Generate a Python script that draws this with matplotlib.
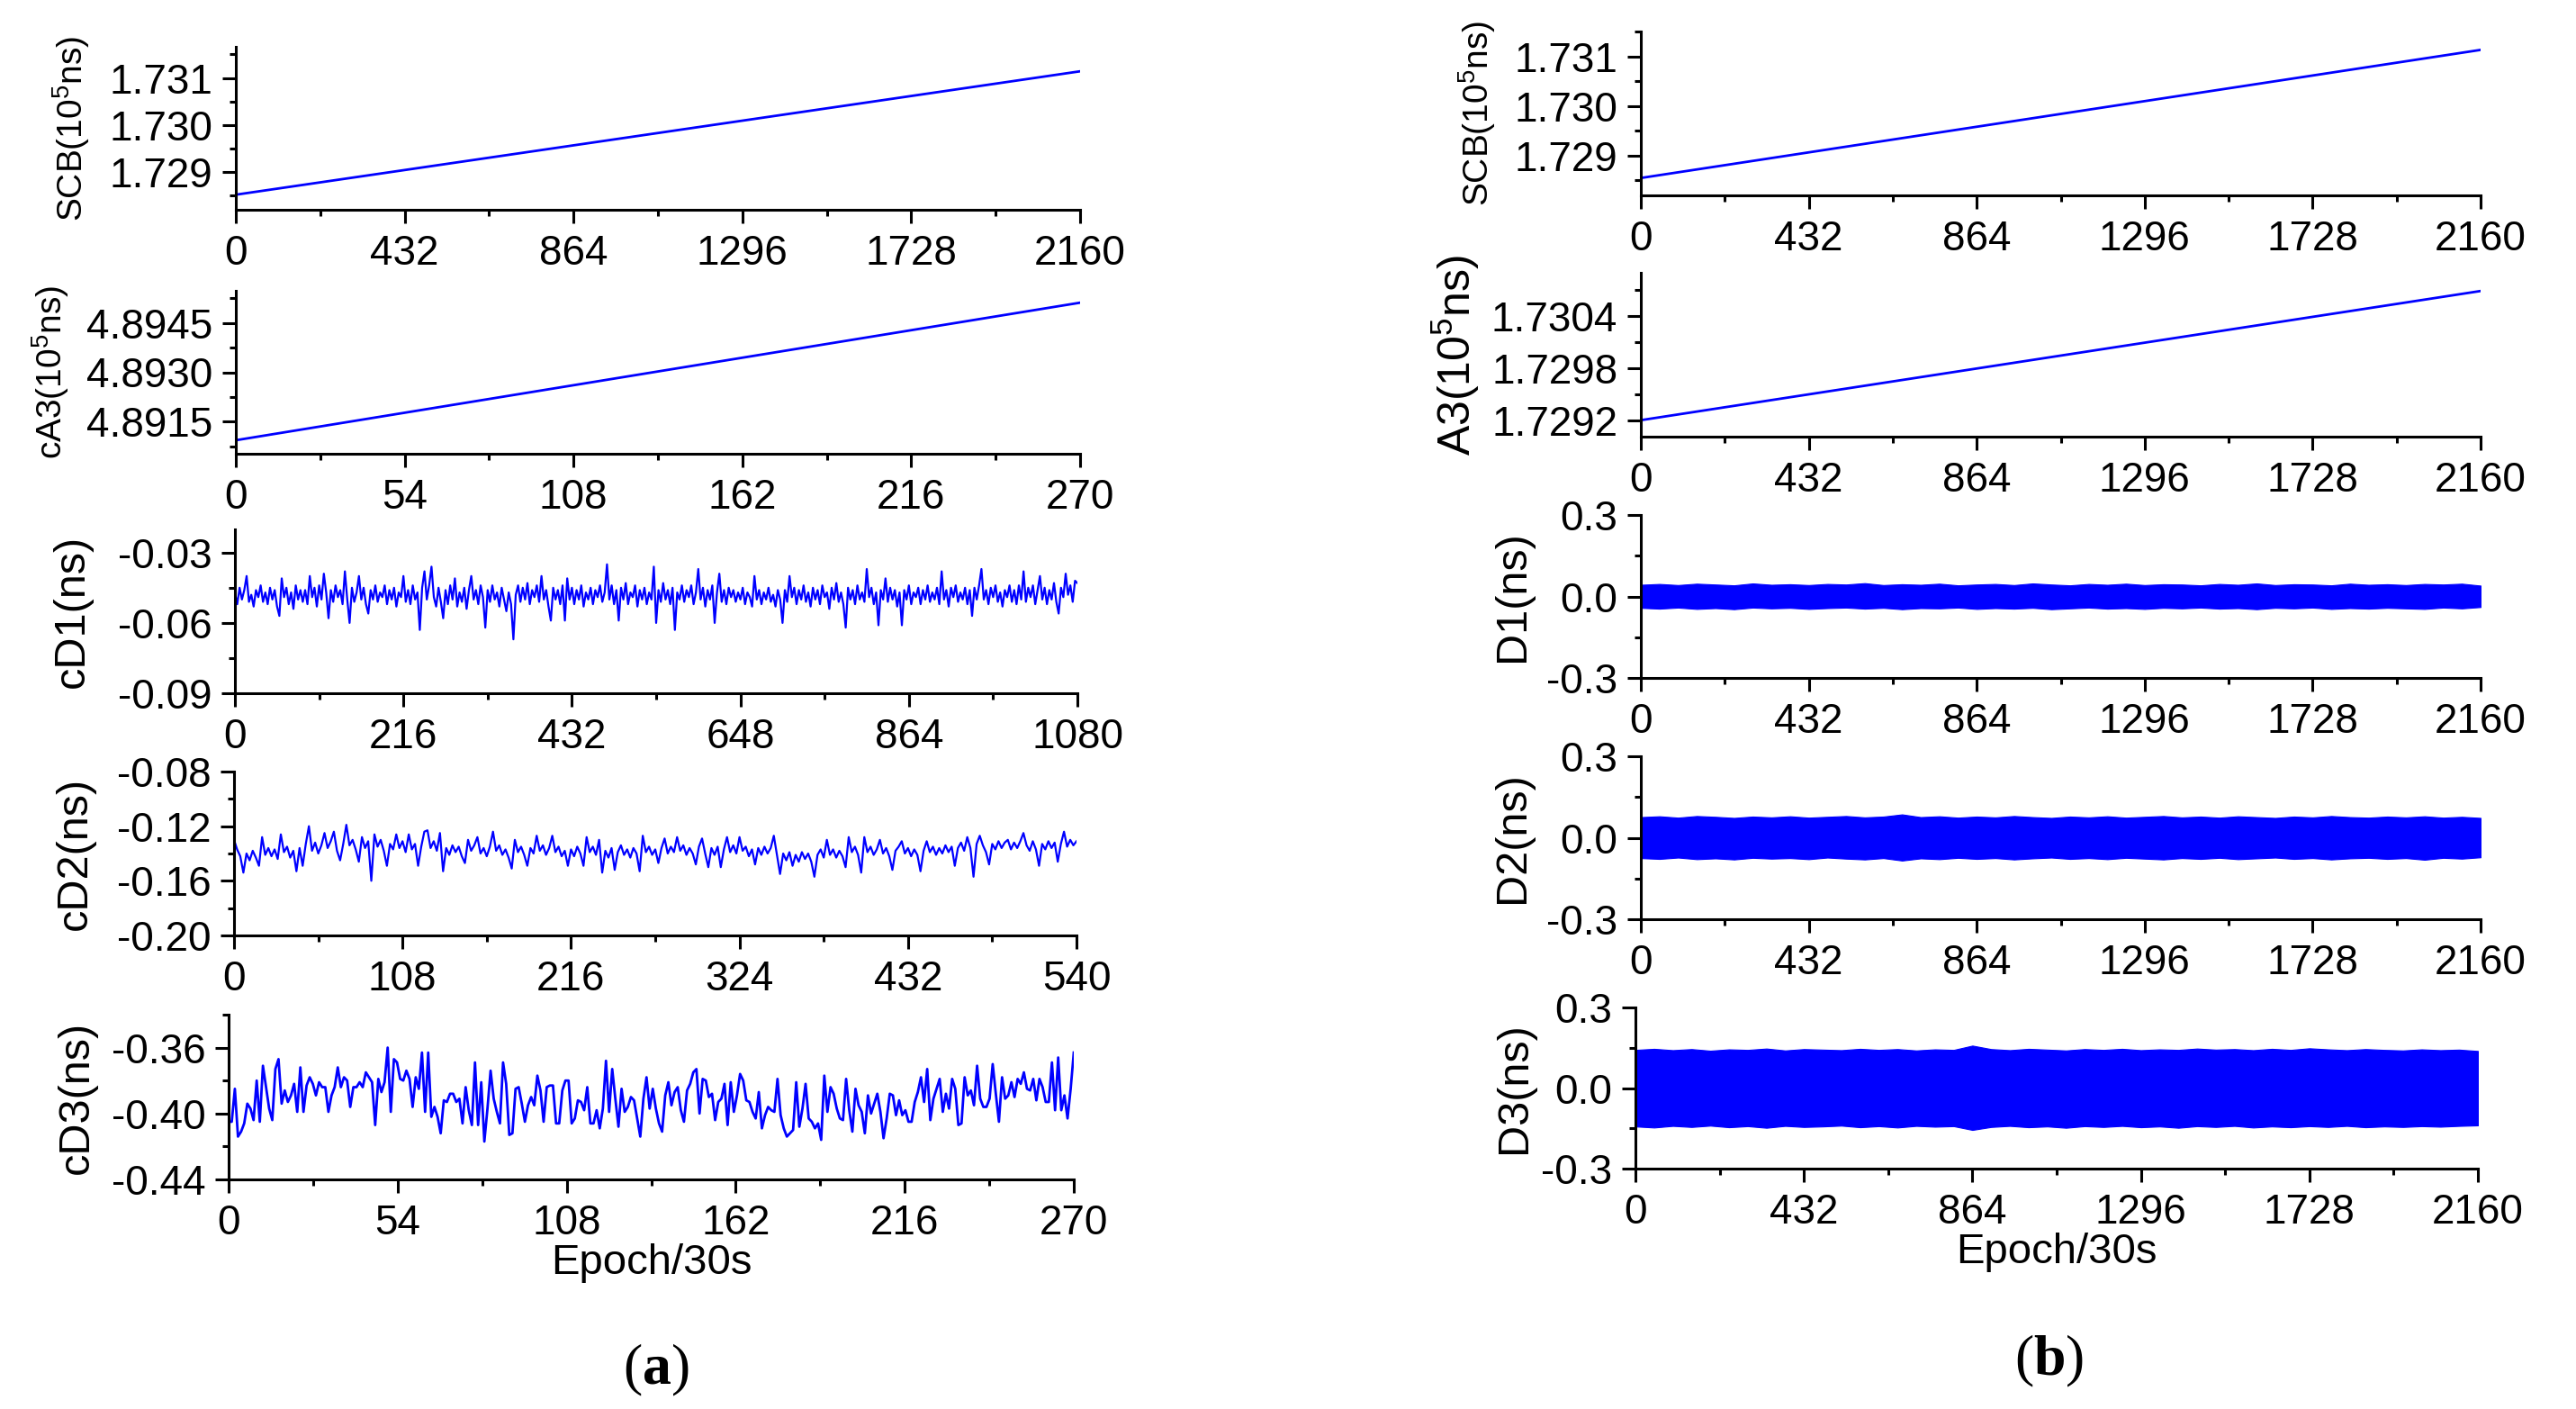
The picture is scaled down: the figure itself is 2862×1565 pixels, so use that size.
import numpy as np
import matplotlib
matplotlib.use('Agg')
import matplotlib.pyplot as plt
from matplotlib.ticker import FixedLocator

# === Font setup (Arial-like text, Times-like panel tags) ===
plt.rcParams.update({
    'font.family': 'Liberation Sans',
    'mathtext.fontset': 'custom',
    'mathtext.default': 'regular',
    'mathtext.rm': 'Liberation Sans',
    'mathtext.bf': 'Liberation Serif:bold',
})

BLUE = '#0000ff'

# === Data ===
# (a) straight lines: values at first and last epoch
scb_a_epoch = [0, 2160]
scb_a = [1.72852, 1.73114]
ca3_epoch = [0, 270]
ca3 = [4.89094, 4.89511]

# (a) cD1, one value per 3 epochs (0..1080)
cd1 = [
    -0.047, -0.052, -0.045, -0.050, -0.046, -0.040, -0.051, -0.048, -0.053, -0.046,
    -0.049, -0.044, -0.051, -0.047, -0.052, -0.045, -0.050, -0.046, -0.053, -0.057,
    -0.041, -0.049, -0.045, -0.052, -0.047, -0.054, -0.044, -0.050, -0.046, -0.051,
    -0.046, -0.052, -0.040, -0.049, -0.045, -0.053, -0.044, -0.050, -0.039, -0.047,
    -0.058, -0.046, -0.051, -0.044, -0.049, -0.046, -0.052, -0.038, -0.050, -0.060,
    -0.045, -0.051, -0.047, -0.040, -0.050, -0.045, -0.052, -0.056, -0.046, -0.050,
    -0.044, -0.051, -0.047, -0.049, -0.044, -0.052, -0.046, -0.050, -0.045, -0.053,
    -0.047, -0.049, -0.040, -0.051, -0.046, -0.052, -0.044, -0.050, -0.047, -0.063,
    -0.045, -0.038, -0.050, -0.044, -0.036, -0.049, -0.053, -0.045, -0.051, -0.058,
    -0.046, -0.052, -0.044, -0.050, -0.041, -0.053, -0.047, -0.051, -0.045, -0.054,
    -0.046, -0.040, -0.050, -0.046, -0.052, -0.044, -0.049, -0.062, -0.046, -0.051,
    -0.044, -0.050, -0.047, -0.053, -0.045, -0.050, -0.055, -0.047, -0.052, -0.067,
    -0.048, -0.044, -0.051, -0.045, -0.050, -0.043, -0.052, -0.046, -0.049, -0.044,
    -0.051, -0.040, -0.050, -0.046, -0.053, -0.059, -0.045, -0.050, -0.046, -0.052,
    -0.044, -0.059, -0.041, -0.050, -0.045, -0.052, -0.046, -0.050, -0.044, -0.053,
    -0.047, -0.050, -0.045, -0.052, -0.046, -0.049, -0.044, -0.051, -0.047, -0.035,
    -0.050, -0.044, -0.052, -0.046, -0.059, -0.045, -0.050, -0.043, -0.052, -0.047,
    -0.049, -0.044, -0.053, -0.046, -0.050, -0.045, -0.052, -0.047, -0.050, -0.036,
    -0.060, -0.046, -0.051, -0.043, -0.050, -0.046, -0.052, -0.045, -0.063, -0.047,
    -0.050, -0.044, -0.051, -0.046, -0.049, -0.044, -0.052, -0.047, -0.037, -0.050,
    -0.045, -0.053, -0.046, -0.050, -0.044, -0.060, -0.047, -0.039, -0.051, -0.046,
    -0.052, -0.045, -0.049, -0.046, -0.051, -0.047, -0.050, -0.045, -0.052, -0.047,
    -0.049, -0.053, -0.040, -0.050, -0.046, -0.052, -0.047, -0.050, -0.045, -0.051,
    -0.048, -0.053, -0.046, -0.050, -0.060, -0.046, -0.051, -0.040, -0.049, -0.045,
    -0.052, -0.046, -0.050, -0.044, -0.051, -0.047, -0.053, -0.045, -0.050, -0.046,
    -0.052, -0.044, -0.049, -0.047, -0.054, -0.045, -0.050, -0.043, -0.051, -0.047,
    -0.052, -0.062, -0.045, -0.050, -0.046, -0.052, -0.044, -0.050, -0.047, -0.051,
    -0.037, -0.049, -0.045, -0.052, -0.047, -0.061, -0.046, -0.050, -0.041, -0.051,
    -0.045, -0.050, -0.046, -0.053, -0.047, -0.061, -0.046, -0.050, -0.044, -0.052,
    -0.047, -0.049, -0.045, -0.052, -0.046, -0.050, -0.044, -0.051, -0.047, -0.050,
    -0.045, -0.052, -0.038, -0.050, -0.046, -0.053, -0.045, -0.049, -0.044, -0.051,
    -0.047, -0.050, -0.045, -0.052, -0.046, -0.057, -0.045, -0.050, -0.044, -0.037,
    -0.050, -0.046, -0.052, -0.045, -0.049, -0.044, -0.051, -0.047, -0.053, -0.046,
    -0.049, -0.044, -0.051, -0.046, -0.052, -0.044, -0.050, -0.038, -0.051, -0.045,
    -0.049, -0.044, -0.052, -0.046, -0.040, -0.050, -0.045, -0.052, -0.046, -0.050,
    -0.043, -0.051, -0.056, -0.045, -0.049, -0.039, -0.048, -0.044, -0.051, -0.042,
    -0.043,
]

# (a) cD2, one value per 2 epochs (0..540)
cd2 = [
    -0.130, -0.137, -0.142, -0.154, -0.140, -0.145, -0.138, -0.143, -0.149, -0.128,
    -0.141, -0.136, -0.142, -0.137, -0.144, -0.126, -0.139, -0.135, -0.143, -0.138,
    -0.153, -0.136, -0.149, -0.133, -0.120, -0.138, -0.132, -0.140, -0.134, -0.125,
    -0.136, -0.131, -0.124, -0.138, -0.145, -0.133, -0.119, -0.134, -0.130, -0.137,
    -0.146, -0.128, -0.136, -0.131, -0.160, -0.126, -0.135, -0.130, -0.138, -0.149,
    -0.133, -0.137, -0.126, -0.136, -0.131, -0.139, -0.126, -0.137, -0.133, -0.149,
    -0.135, -0.124, -0.123, -0.136, -0.131, -0.138, -0.125, -0.153, -0.136, -0.141,
    -0.134, -0.139, -0.135, -0.142, -0.147, -0.130, -0.138, -0.134, -0.128, -0.140,
    -0.136, -0.142, -0.135, -0.124, -0.138, -0.134, -0.141, -0.137, -0.143, -0.151,
    -0.130, -0.139, -0.135, -0.141, -0.149, -0.136, -0.140, -0.127, -0.138, -0.134,
    -0.141, -0.136, -0.127, -0.139, -0.135, -0.142, -0.138, -0.149, -0.137, -0.142,
    -0.135, -0.140, -0.149, -0.128, -0.139, -0.135, -0.141, -0.130, -0.154, -0.138,
    -0.143, -0.136, -0.152, -0.139, -0.134, -0.141, -0.137, -0.143, -0.136, -0.140,
    -0.153, -0.127, -0.139, -0.135, -0.141, -0.137, -0.147, -0.136, -0.129, -0.140,
    -0.135, -0.139, -0.128, -0.138, -0.134, -0.141, -0.136, -0.140, -0.148, -0.135,
    -0.129, -0.140, -0.150, -0.136, -0.141, -0.135, -0.150, -0.137, -0.128, -0.139,
    -0.134, -0.140, -0.128, -0.138, -0.135, -0.142, -0.137, -0.148, -0.136, -0.141,
    -0.135, -0.140, -0.136, -0.127, -0.141, -0.155, -0.140, -0.145, -0.139, -0.149,
    -0.141, -0.146, -0.139, -0.144, -0.140, -0.146, -0.157, -0.141, -0.137, -0.143,
    -0.130, -0.141, -0.137, -0.143, -0.138, -0.142, -0.150, -0.128, -0.139, -0.135,
    -0.141, -0.154, -0.128, -0.139, -0.135, -0.141, -0.137, -0.130, -0.140, -0.136,
    -0.142, -0.152, -0.138, -0.135, -0.131, -0.140, -0.136, -0.142, -0.137, -0.141,
    -0.153, -0.138, -0.131, -0.139, -0.135, -0.141, -0.136, -0.140, -0.134, -0.139,
    -0.135, -0.149, -0.136, -0.132, -0.138, -0.128, -0.136, -0.157, -0.133, -0.127,
    -0.134, -0.139, -0.148, -0.133, -0.137, -0.131, -0.136, -0.132, -0.130, -0.137,
    -0.132, -0.136, -0.131, -0.125, -0.134, -0.138, -0.131, -0.137, -0.149, -0.133,
    -0.137, -0.131, -0.136, -0.132, -0.146, -0.133, -0.124, -0.135, -0.130, -0.134,
    -0.131,
]

# (a) cD3, about one value per epoch (0..270)
cd3 = [
    -0.405, -0.405, -0.385, -0.414, -0.411, -0.406, -0.394, -0.397, -0.404, -0.380,
    -0.405, -0.371, -0.384, -0.397, -0.404, -0.373, -0.367, -0.394, -0.386, -0.393,
    -0.389, -0.382, -0.399, -0.372, -0.399, -0.383, -0.378, -0.382, -0.389, -0.381,
    -0.384, -0.384, -0.399, -0.389, -0.384, -0.372, -0.384, -0.378, -0.380, -0.396,
    -0.384, -0.384, -0.381, -0.384, -0.375, -0.378, -0.381, -0.407, -0.379, -0.387,
    -0.381, -0.360, -0.399, -0.367, -0.369, -0.379, -0.380, -0.374, -0.379, -0.396,
    -0.378, -0.385, -0.363, -0.399, -0.363, -0.402, -0.396, -0.402, -0.412, -0.392,
    -0.393, -0.388, -0.388, -0.393, -0.391, -0.406, -0.384, -0.398, -0.407, -0.369,
    -0.407, -0.381, -0.417, -0.397, -0.374, -0.391, -0.399, -0.406, -0.369, -0.382,
    -0.413, -0.412, -0.385, -0.384, -0.394, -0.405, -0.395, -0.390, -0.395, -0.377,
    -0.386, -0.405, -0.384, -0.383, -0.383, -0.406, -0.406, -0.386, -0.380, -0.380,
    -0.406, -0.403, -0.392, -0.393, -0.398, -0.384, -0.406, -0.406, -0.398, -0.409,
    -0.397, -0.368, -0.399, -0.373, -0.391, -0.408, -0.385, -0.399, -0.396, -0.390,
    -0.392, -0.403, -0.414, -0.391, -0.378,
    -0.397, -0.385, -0.397, -0.406, -0.411, -0.389, -0.381, -0.395, -0.387, -0.384,
    -0.398, -0.405, -0.386, -0.382, -0.375, -0.373, -0.400, -0.379, -0.380, -0.390,
    -0.388, -0.404, -0.393, -0.391, -0.382, -0.407, -0.381, -0.399, -0.389, -0.376,
    -0.380, -0.392, -0.393, -0.399, -0.403, -0.387, -0.409, -0.401, -0.396, -0.398,
    -0.399, -0.379, -0.401, -0.409, -0.414, -0.412, -0.410, -0.381, -0.408, -0.397,
    -0.382, -0.403, -0.405, -0.409, -0.406, -0.416, -0.377, -0.399, -0.384, -0.388,
    -0.397, -0.403, -0.404, -0.379, -0.398, -0.411, -0.385, -0.395, -0.399, -0.412,
    -0.389, -0.400, -0.394, -0.388, -0.399, -0.415, -0.403, -0.388, -0.389, -0.401,
    -0.392, -0.401, -0.398, -0.405, -0.405, -0.393, -0.387, -0.378, -0.393, -0.373,
    -0.404, -0.391, -0.385, -0.379, -0.399, -0.388, -0.397, -0.379, -0.385, -0.407,
    -0.406, -0.378, -0.389, -0.386, -0.395, -0.371, -0.391, -0.396, -0.396, -0.391,
    -0.370, -0.388, -0.405, -0.378, -0.391, -0.389, -0.381, -0.390, -0.379, -0.382,
    -0.375, -0.385, -0.386, -0.379, -0.392, -0.379, -0.384, -0.393, -0.393, -0.369,
    -0.398, -0.366, -0.398, -0.389, -0.403, -0.385, -0.363,
]

# (b) straight lines
scb_b_epoch = [0, 2160]
scb_b = [1.72855, 1.73113]
a3_epoch = [0, 2160]
a3 = [1.72920, 1.73069]

# (b) D1..D3 are dense bands: upper / lower envelope, one value per 48 epochs
d1_upper = [
    0.043, 0.046, 0.042, 0.047, 0.044, 0.041, 0.048, 0.043, 0.045, 0.042,
    0.046, 0.044, 0.049, 0.042, 0.045, 0.043, 0.047, 0.041, 0.044, 0.046,
    0.042, 0.048, 0.044, 0.041, 0.046, 0.043, 0.047, 0.042, 0.045, 0.044,
    0.041, 0.046, 0.043, 0.048, 0.042, 0.045, 0.044, 0.041, 0.047, 0.043,
    0.045, 0.042, 0.046, 0.044, 0.047, 0.040,
]
d1_lower = [
    -0.042, -0.045, -0.041, -0.046, -0.043, -0.047, -0.041, -0.044, -0.042, -0.046,
    -0.043, -0.041, -0.045, -0.042, -0.047, -0.043, -0.044, -0.041, -0.046, -0.043,
    -0.045, -0.042, -0.047, -0.044, -0.041, -0.045, -0.043, -0.046, -0.042, -0.044,
    -0.041, -0.045, -0.043, -0.047, -0.042, -0.044, -0.041, -0.046, -0.043, -0.045,
    -0.042, -0.044, -0.046, -0.041, -0.044, -0.039,
]
d2_upper = [
    0.076, 0.079, 0.074, 0.080, 0.077, 0.073, 0.078, 0.075, 0.079, 0.074,
    0.077, 0.080, 0.075, 0.078, 0.086, 0.076, 0.079, 0.074, 0.078, 0.075,
    0.080, 0.076, 0.073, 0.078, 0.075, 0.079, 0.074, 0.077, 0.080, 0.075,
    0.078, 0.074, 0.079, 0.076, 0.073, 0.078, 0.075, 0.080, 0.076, 0.074,
    0.078, 0.075, 0.079, 0.074, 0.077, 0.073,
]
d2_lower = [
    -0.075, -0.078, -0.073, -0.079, -0.076, -0.080, -0.074, -0.077, -0.075, -0.079,
    -0.073, -0.077, -0.080, -0.075, -0.084, -0.076, -0.079, -0.074, -0.078, -0.075,
    -0.080, -0.076, -0.073, -0.078, -0.075, -0.079, -0.074, -0.077, -0.080, -0.075,
    -0.078, -0.074, -0.079, -0.076, -0.073, -0.078, -0.075, -0.080, -0.076, -0.074,
    -0.078, -0.075, -0.081, -0.074, -0.077, -0.072,
]
d3_upper = [
    0.142, 0.146, 0.141, 0.145, 0.139, 0.144, 0.142, 0.147, 0.140, 0.145,
    0.143, 0.141, 0.146, 0.142, 0.145, 0.140, 0.144, 0.142, 0.158, 0.145,
    0.141, 0.146, 0.143, 0.140, 0.145, 0.142, 0.146, 0.141, 0.144, 0.142,
    0.147, 0.143, 0.145, 0.141, 0.146, 0.142, 0.148, 0.144, 0.141, 0.145,
    0.142, 0.140, 0.144, 0.141, 0.143, 0.138,
]
d3_lower = [
    -0.143, -0.147, -0.141, -0.145, -0.140, -0.146, -0.142, -0.148, -0.141, -0.145,
    -0.143, -0.140, -0.146, -0.142, -0.147, -0.141, -0.144, -0.142, -0.156, -0.145,
    -0.141, -0.146, -0.143, -0.148, -0.142, -0.145, -0.141, -0.146, -0.143, -0.148,
    -0.142, -0.145, -0.141, -0.147, -0.143, -0.146, -0.142, -0.145, -0.141, -0.146,
    -0.143, -0.145, -0.142, -0.144, -0.141, -0.139,
]

W, H = 2862, 1565
fig = plt.figure(figsize=(W / 100, H / 100), dpi=100)


def add_panel(x0, y0, x1, y1):
    """Axes from pixel box (left, top, right, bottom)."""
    return fig.add_axes([x0 / W, 1 - y1 / H, (x1 - x0) / W, (y1 - y0) / H])


def style(ax, xmax, xstep, ylim, yticks, yfmt, yminor, ylabel, lab_x, lab_size):
    for s in ['top', 'right']:
        ax.spines[s].set_visible(False)
    for s in ['left', 'bottom']:
        ax.spines[s].set_linewidth(2.2)
    ax.set_xlim(0, xmax)
    xt = np.arange(0, xmax + 1, xstep)
    ax.set_xticks(xt, [str(int(v)) for v in xt])
    ax.xaxis.set_minor_locator(FixedLocator(xt[:-1] + xstep / 2))
    ax.set_ylim(*ylim)
    ax.set_yticks(yticks, [yfmt.format(v) for v in yticks])
    ax.yaxis.set_minor_locator(FixedLocator(yminor))
    ax.tick_params(which='major', direction='out', length=10.5, width=2.2,
                   labelsize=33)
    ax.tick_params(axis='x', which='major', pad=9)
    ax.tick_params(axis='y', which='major', pad=8)
    ax.tick_params(which='minor', direction='out', length=5, width=2.2)
    ax.set_ylabel(ylabel, fontsize=lab_size, va='center', ha='center')
    ax.yaxis.set_label_coords(lab_x, 0.5)


lw = 2.0

# ---------------- (a) ----------------
ax = add_panel(262, 52, 1200, 233)
ax.plot(scb_a_epoch, scb_a, color=BLUE, lw=lw)
style(ax, 2160, 432, (1.7282, 1.73166), [1.729, 1.730, 1.731], '{:.3f}',
      [1.7285, 1.7295, 1.7305, 1.7315], 'SCB(10$^5$ns)', -0.195, 28)

ax = add_panel(262, 323, 1200, 504)
ax.plot(ca3_epoch, ca3, color=BLUE, lw=lw)
style(ax, 270, 54, (4.89053, 4.89547), [4.8915, 4.8930, 4.8945], '{:.4f}',
      [4.89075, 4.89225, 4.89375, 4.89525], 'cA3(10$^5$ns)', -0.22, 28)

ax = add_panel(261, 588, 1197, 770)
ax.plot(np.linspace(0, 1080, len(cd1)), cd1, color=BLUE, lw=1.6)
style(ax, 1080, 216, (-0.09, -0.0201), [-0.09, -0.06, -0.03], '{:.2f}',
      [-0.075, -0.045], 'cD1(ns)', -0.193, 35)

ax = add_panel(260, 857, 1196, 1039)
ax.plot(np.linspace(0, 540, len(cd2)), cd2, color=BLUE, lw=1.6)
style(ax, 540, 108, (-0.20, -0.08), [-0.20, -0.16, -0.12, -0.08], '{:.2f}',
      [-0.18, -0.14, -0.10], 'cD2(ns)', -0.189, 35)

ax = add_panel(254, 1127, 1193, 1310)
ax.plot(np.linspace(0, 270, len(cd3)), cd3, color=BLUE, lw=lw)
style(ax, 270, 54, (-0.44, -0.34), [-0.44, -0.40, -0.36], '{:.2f}',
      [-0.42, -0.38, -0.34], 'cD3(ns)', -0.18, 35)
ax.set_xlabel('Epoch/30s', fontsize=34, labelpad=0)

# ---------------- (b) ----------------
ax = add_panel(1823, 35, 2756, 217)
ax.plot(scb_b_epoch, scb_b, color=BLUE, lw=lw)
style(ax, 2160, 432, (1.7282, 1.7315), [1.729, 1.730, 1.731], '{:.3f}',
      [1.7285, 1.7295, 1.7305, 1.7315], 'SCB(10$^5$ns)', -0.195, 28)

ax = add_panel(1823, 303, 2756, 485)
ax.plot(a3_epoch, a3, color=BLUE, lw=lw)
style(ax, 2160, 432, (1.72901, 1.7309), [1.7292, 1.7298, 1.7304], '{:.4f}',
      [1.7295, 1.7301, 1.7307], 'A3(10$^5$ns)', -0.221, 36)

bands = [
    ((1823, 572, 2756, 753), d1_upper, d1_lower, 'D1(ns)', -0.153),
    ((1823, 840, 2756, 1021), d2_upper, d2_lower, 'D2(ns)', -0.153),
    ((1817, 1119, 2753, 1298), d3_upper, d3_lower, 'D3(ns)', -0.144),
]
for box, up, lo, lab, lx in bands:
    ax = add_panel(*box)
    ep = np.linspace(0, 2160, len(up))
    ax.fill_between(ep, lo, up, color=BLUE, lw=0.8, edgecolor=BLUE)
    style(ax, 2160, 432, (-0.3, 0.3), [-0.3, 0.0, 0.3], '{:.1f}',
          [-0.15, 0.15], lab, lx, 35)
ax.set_xlabel('Epoch/30s', fontsize=34, labelpad=0)

fig.text(729 / W, 1 - 1522 / H, r'($\mathbf{a}$)', family='Liberation Serif',
         fontsize=46, ha='center', va='center')
fig.text(2277 / W, 1 - 1512 / H, r'($\mathbf{b}$)', family='Liberation Serif',
         fontsize=46, ha='center', va='center')

fig.savefig('out.png', dpi=100)
